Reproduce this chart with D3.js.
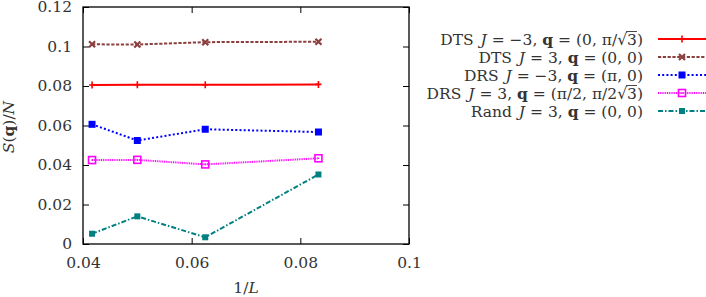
<!DOCTYPE html>
<html><head><meta charset="utf-8">
<script src="https://cdn.jsdelivr.net/npm/d3@7"></script>
<style>body{margin:0;background:#fff}svg{display:block}</style>
</head><body><svg id="c" width="706" height="297"></svg>
<script>
const xs = [1/24, 1/20, 1/16, 1/12];
const dtsNeg = [0.0805, 0.0806, 0.0806, 0.0808];
const dtsPos = [0.1011, 0.1010, 0.1022, 0.1024];
const drsNeg = [0.0606, 0.0524, 0.0581, 0.0567];
const drsPos = [0.0425, 0.0426, 0.0403, 0.0434];
const rand = [0.0052, 0.0140, 0.0034, 0.0352];
const xTicks = [0.04, 0.06, 0.08, 0.1];
const yTicks = [0, 0.02, 0.04, 0.06, 0.08, 0.1, 0.12];
const xTickLabels = ["0.04", "0.06", "0.08", "0.1"];
const yTickLabels = ["0", "0.02", "0.04", "0.06", "0.08", "0.1", "0.12"];

const FONT = "'DejaVu Serif','Liberation Serif',serif";
const FS = 15.5;

const series = [
  {vals: dtsNeg, color: "#ff0000", dash: null, marker: "plus",
   label: [["DTS ",""],["J","i"],[" = −3, ",""],["q","b"],[" = (0, π/√",""],["3","o"],[")",""]]},
  {vals: dtsPos, color: "#8b3f3f", dash: "3.2,1.6", marker: "cross",
   label: [["DTS ",""],["J","i"],[" = 3, ",""],["q","b"],[" = (0, 0)",""]]},
  {vals: drsNeg, color: "#0000ff", dash: "2,2.2", marker: "fsq",
   label: [["DRS ",""],["J","i"],[" = −3, ",""],["q","b"],[" = (π, 0)",""]]},
  {vals: drsPos, color: "#ff00ff", dash: "1,0.8", marker: "osq",
   label: [["DRS ",""],["J","i"],[" = 3, ",""],["q","b"],[" = (π/2, π/2√",""],["3","o"],[")",""]]},
  {vals: rand, color: "#008080", dash: "5,2,1.5,2", marker: "tsq",
   label: [["Rand ",""],["J","i"],[" = 3, ",""],["q","b"],[" = (0, 0)",""]]}
];

const svg = d3.select("#c");
const L = 83, R = 409, T = 7, B = 244;
const x = d3.scaleLinear().domain([0.04, 0.1]).range([L, R]);
const y = d3.scaleLinear().domain([0, 0.12]).range([B, T]);

const axB = d3.axisBottom(x).tickValues(xTicks).tickSizeInner(-6).tickSizeOuter(0).tickFormat((d,i)=>xTickLabels[i]).tickPadding(13);
const axT = d3.axisTop(x).tickValues(xTicks).tickSizeInner(-6).tickSizeOuter(0).tickFormat("");
const axL = d3.axisLeft(y).tickValues(yTicks).tickSizeInner(-6).tickSizeOuter(0).tickFormat((d,i)=>yTickLabels[i]).tickPadding(11);
const axR = d3.axisRight(y).tickValues(yTicks).tickSizeInner(-6).tickSizeOuter(0).tickFormat("");
function style(g){ g.attr("font-family", FONT).attr("font-size", FS);
  g.select(".domain").remove(); g.selectAll("line").attr("stroke","#000").attr("stroke-width",1);
  g.selectAll("text").attr("fill","#333").attr("font-family", FONT).attr("font-size",FS); }
svg.append("g").attr("transform",`translate(0,${B})`).call(axB).call(style);
svg.append("g").attr("transform",`translate(0,${T})`).call(axT).call(style);
svg.append("g").attr("transform",`translate(${L},0)`).call(axL).call(style);
svg.append("g").attr("transform",`translate(${R},0)`).call(axR).call(style);
svg.append("rect").attr("x",L).attr("y",T).attr("width",R-L).attr("height",B-T)
  .attr("fill","none").attr("stroke","#000").attr("stroke-width",1.3);

function drawMarker(g, type, cx, cy, color){
  if(type==="plus"){
    g.append("path").attr("d",`M${cx-3},${cy}H${cx+3}M${cx},${cy-3.5}V${cy+3.5}`).attr("stroke",color).attr("stroke-width",1.6);
  } else if(type==="cross"){
    g.append("path").attr("d",`M${cx-3},${cy-3}L${cx+3},${cy+3}M${cx-3},${cy+3}L${cx+3},${cy-3}`).attr("stroke",color).attr("stroke-width",2.2);
  } else if(type==="fsq"){
    g.append("rect").attr("x",cx-3.5).attr("y",cy-3.5).attr("width",7).attr("height",7).attr("fill",color);
  } else if(type==="osq"){
    g.append("rect").attr("x",cx-3.5).attr("y",cy-3.5).attr("width",7).attr("height",7).attr("fill","none").attr("stroke",color).attr("stroke-width",1.6);
    g.append("rect").attr("x",cx-0.7).attr("y",cy-0.7).attr("width",1.4).attr("height",1.4).attr("fill",color);
  } else if(type==="tsq"){
    g.append("rect").attr("x",cx-3).attr("y",cy-3).attr("width",6).attr("height",6).attr("fill",color);
  }
}

const line = d3.line().x(d=>x(d[0])).y(d=>y(d[1]));
series.forEach(s=>{
  const pts = xs.map((v,i)=>[v, s.vals[i]]);
  const g = svg.append("g");
  g.append("path").attr("d", line(pts)).attr("fill","none").attr("stroke", s.color)
    .attr("stroke-width", 2).attr("stroke-dasharray", s.dash);
  pts.forEach(p=>drawMarker(g, s.marker, x(p[0]), y(p[1]), s.color));
});

const rowY = [39, 57, 75, 93, 111];
series.forEach((s,i)=>{
  const ty = rowY[i];
  const t = svg.append("text").attr("x",643).attr("y",ty+5.5).attr("text-anchor","end")
    .attr("font-size",FS).attr("font-family",FONT).attr("fill","#333");
  let pos = 0, overIdx = -1;
  s.label.forEach(([str,k])=>{
    const ts = t.append("tspan").text(str);
    if(k==="i") ts.attr("font-style","italic").attr("dx",2);
    if(k==="b") ts.attr("font-weight","bold");
    if(k==="o") overIdx = pos;
    pos += str.length;
  });
  if(overIdx >= 0){
    const ext = t.node().getExtentOfChar(overIdx);
    svg.append("line").attr("x1",ext.x-1).attr("x2",ext.x+ext.width).attr("y1",ty-7.5).attr("y2",ty-7.5)
      .attr("stroke","#333").attr("stroke-width",0.9);
  }
  const g = svg.append("g");
  g.append("line").attr("x1",658).attr("x2",706).attr("y1",ty).attr("y2",ty)
    .attr("stroke",s.color).attr("stroke-width",2).attr("stroke-dasharray",s.dash);
  drawMarker(g, s.marker, 682, ty, s.color);
});

svg.append("text").attr("x",246).attr("y",293).attr("text-anchor","middle").attr("font-size",FS)
  .attr("font-family",FONT).attr("fill","#333")
  .html('<tspan>1/</tspan><tspan font-style="italic">L</tspan>');
svg.append("text").attr("transform","translate(14,127) rotate(-90)").attr("text-anchor","middle").attr("font-size",FS)
  .attr("font-family",FONT).attr("fill","#333")
  .html('<tspan font-style="italic">S</tspan><tspan>(</tspan><tspan font-weight="bold">q</tspan><tspan>)/</tspan><tspan font-style="italic">N</tspan>');
</script></body></html>
